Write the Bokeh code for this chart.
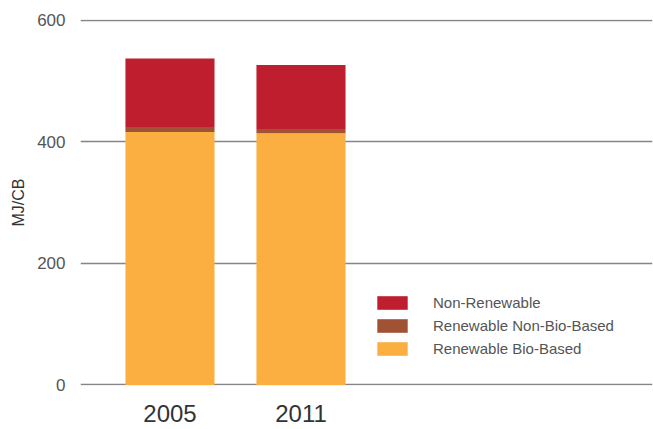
from bokeh.plotting import figure
from bokeh.models import FixedTicker, Legend, LegendItem, Range1d, ColumnDataSource
from bokeh.embed import file_html
from bokeh.resources import INLINE

years = ["2005", "2011"]
bio_based = [416, 414]
non_bio = [8, 7]
non_renewable = [113, 105]
series = ["Renewable Bio-Based", "Renewable Non-Bio-Based", "Non-Renewable"]
colors = ["#FBAF41", "#A15134", "#BE1E2D"]
y_ticks = [0, 200, 400, 600]

xpos = [i + 1 for i in range(len(years))]
src = ColumnDataSource(dict(x=xpos, **{series[0]: bio_based, series[1]: non_bio, series[2]: non_renewable}))

FONT = "Liberation Sans"
p = figure(width=653, height=429, output_backend="svg", toolbar_location=None,
           x_range=Range1d(0.317, 4.683), y_range=Range1d(-1, 601),
           min_border_left=80, min_border_right=1, min_border_top=19, min_border_bottom=44)
p.outline_line_color = None
p.background_fill_color = "white"

renderers = p.vbar_stack(series, x="x", width=0.68, color=colors, line_color=None, source=src)

p.xgrid.grid_line_color = None
p.ygrid.grid_line_color = "#858585"
p.ygrid.grid_line_width = 1.5
p.ygrid.ticker = FixedTicker(ticks=y_ticks)

p.yaxis.ticker = FixedTicker(ticks=y_ticks)
p.yaxis.axis_line_color = None
p.yaxis.major_tick_line_color = None
p.yaxis.minor_tick_line_color = None
p.yaxis.major_label_text_font = FONT
p.yaxis.major_label_text_font_size = "17px"
p.yaxis.major_label_text_color = "#555555"
p.yaxis.major_label_standoff = 9
p.yaxis.axis_label = "MJ/CB"
p.yaxis.axis_label_text_font = FONT
p.yaxis.axis_label_text_font_size = "16px"
p.yaxis.axis_label_text_font_style = "normal"
p.yaxis.axis_label_text_color = "#333333"
p.yaxis.axis_label_standoff = 7

p.xaxis.ticker = FixedTicker(ticks=xpos)
p.xaxis.major_label_overrides = {x: y for x, y in zip(xpos, years)}
p.xaxis.axis_line_color = None
p.xaxis.major_tick_line_color = None
p.xaxis.minor_tick_line_color = None
p.xaxis.major_label_text_font = FONT
p.xaxis.major_label_text_font_size = "24px"
p.xaxis.major_label_text_color = "#333333"
p.xaxis.major_label_standoff = 13

items = [LegendItem(label=s, renderers=[r]) for s, r in zip(series, renderers)][::-1]
legend = Legend(items=items, location=(293, 28), padding=0, margin=0, spacing=6,
                glyph_width=38, glyph_height=17, label_height=17, label_standoff=22,
                label_text_font=FONT, label_text_font_size="15px", label_text_color="#555555",
                border_line_color=None, background_fill_alpha=0)
p.add_layout(legend, "center")

open("out.html", "w").write(file_html(p, INLINE))
